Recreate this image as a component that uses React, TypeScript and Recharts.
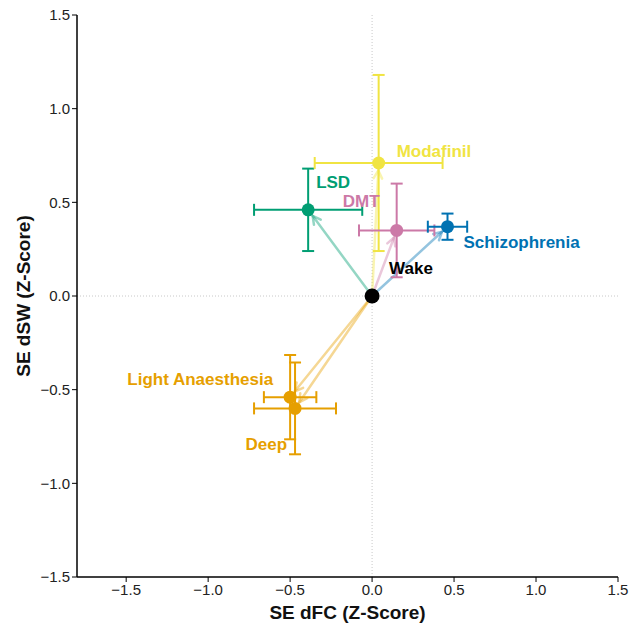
import React from 'react';
import { ScatterChart, Scatter, XAxis, YAxis, ErrorBar, ReferenceLine } from 'recharts';

// Conditions and their mean shifts (SE dFC, SE dSW) relative to wakefulness
const conditions = ['LSD', 'Modafinil', 'DMT', 'Schizophrenia', 'Light Anaesthesia', 'Deep'];
const dFC = [-0.39, 0.04, 0.15, 0.46, -0.5, -0.47];
const dSW = [0.46, 0.71, 0.35, 0.37, -0.54, -0.6];
const dFCErr = [0.33, 0.39, 0.23, 0.12, 0.16, 0.25];
const dSWErr = [0.22, 0.47, 0.25, 0.07, 0.225, 0.245];
const colors = ['#009E73', '#F0E442', '#CC79A7', '#0072B2', '#E69F00', '#E69F00'];

const wakeName = 'Wake';
const wakePoint = { x: 0, y: 0 };

const xTicks = [-1.5, -1.0, -0.5, 0.0, 0.5, 1.0, 1.5];
const yTicks = [-1.5, -1.0, -0.5, 0.0, 0.5, 1.0, 1.5];

const FONT = '"Liberation Sans", Arial, Helvetica, sans-serif';

// label placement relative to each dot: [dx, dy, anchor]
const labelOffsets: Record<string, [number, number, string]> = {
  LSD: [8, -27, 'start'],
  Modafinil: [18, -11, 'start'],
  DMT: [-17, -29, 'end'],
  Schizophrenia: [16, 16, 'start'],
  'Light Anaesthesia': [-17, -18, 'end'],
  Deep: [-8, 36, 'end'],
  Wake: [17, -28, 'start'],
};

const fmt = (v: number) => (v < 0 ? '\u2212' : '') + Math.abs(v).toFixed(1);

const makeDot = (color: string, r: number) => (props: any) => {
  const { cx, cy, payload } = props;
  if (cx == null || cy == null) return <g />;
  const [dx, dy, anchor] = labelOffsets[payload.name] || [10, -10, 'start'];
  return (
    <g>
      <circle cx={cx} cy={cy} r={r} fill={color} />
      <text
        x={cx + dx}
        y={cy + dy}
        textAnchor={anchor as any}
        dominantBaseline="central"
        fill={color}
        fontFamily={FONT}
        fontWeight="bold"
        fontSize={17}
      >
        {payload.name}
      </text>
    </g>
  );
};

const makeArrow = (color: string) => (props: any) => {
  const { x1, y1, x2, y2 } = props;
  const dx = x2 - x1;
  const dy = y2 - y1;
  const len = Math.sqrt(dx * dx + dy * dy) || 1;
  const ux = dx / len;
  const uy = dy / len;
  const tipX = x2 - ux * 7.5;
  const tipY = y2 - uy * 7.5;
  const head = 9;
  const ang = (28 * Math.PI) / 180;
  const rot = (a: number) => ({
    x: tipX - head * (ux * Math.cos(a) - uy * Math.sin(a)),
    y: tipY - head * (ux * Math.sin(a) + uy * Math.cos(a)),
  });
  const h1 = rot(ang);
  const h2 = rot(-ang);
  return (
    <g stroke={color} strokeOpacity={0.42} strokeWidth={2.5} fill="none" strokeLinecap="round">
      <line x1={x1} y1={y1} x2={tipX} y2={tipY} />
      <polyline points={`${h1.x},${h1.y} ${tipX},${tipY} ${h2.x},${h2.y}`} />
    </g>
  );
};

export default function App() {
  const series = conditions.map((name, i) => ({
    name,
    color: colors[i],
    data: [{ name, x: dFC[i], y: dSW[i], ex: dFCErr[i], ey: dSWErr[i] }],
  }));

  return (
    <div style={{ position: 'absolute', left: 0, top: 0, background: '#fff' }}>
      <ScatterChart
        width={629}
        height={626}
        margin={{ top: 15, right: 11, bottom: 0, left: 17 }}
        style={{ fontFamily: FONT }}
      >
        <XAxis
          type="number"
          dataKey="x"
          domain={[-1.8, 1.5]}
          ticks={xTicks}
          tickFormatter={fmt}
          allowDataOverflow
          height={49}
          axisLine={{ stroke: '#000', strokeWidth: 1.5 }}
          tickLine={{ stroke: '#000', strokeWidth: 1 }}
          tickSize={5}
          tick={{ fill: '#222', fontSize: 15, fontFamily: FONT }}
          label={{
            value: 'SE dFC (Z-Score)',
            position: 'insideBottom',
            offset: 7,
            style: { fontSize: 19, fontWeight: 'bold', fill: '#111', fontFamily: FONT },
          }}
        />
        <YAxis
          type="number"
          dataKey="y"
          domain={[-1.5, 1.5]}
          ticks={yTicks}
          tickFormatter={fmt}
          allowDataOverflow
          width={60}
          axisLine={{ stroke: '#000', strokeWidth: 1.5 }}
          tickLine={{ stroke: '#000', strokeWidth: 1 }}
          tickSize={5}
          tick={{ fill: '#222', fontSize: 15, fontFamily: FONT }}
          label={{
            value: 'SE dSW (Z-Score)',
            angle: -90,
            position: 'insideLeft',
            offset: 6,
            style: { textAnchor: 'middle', fontSize: 19, fontWeight: 'bold', fill: '#111', fontFamily: FONT },
          }}
        />
        <ReferenceLine x={0} stroke="#c8c8c8" strokeDasharray="1 2" strokeWidth={1} />
        <ReferenceLine y={0} stroke="#c8c8c8" strokeDasharray="1 2" strokeWidth={1} />
        {series.map((s) => (
          <ReferenceLine
            key={'arrow-' + s.name}
            segment={[
              { x: wakePoint.x, y: wakePoint.y },
              { x: s.data[0].x, y: s.data[0].y },
            ]}
            ifOverflow="visible"
            shape={makeArrow(s.color)}
          />
        ))}
        {series.map((s) => (
          <Scatter
            key={s.name}
            name={s.name}
            data={s.data}
            fill={s.color}
            isAnimationActive={false}
            shape={makeDot(s.color, 6.5)}
          >
            <ErrorBar dataKey="ex" direction="x" stroke={s.color} strokeWidth={2} width={6} />
            <ErrorBar dataKey="ey" direction="y" stroke={s.color} strokeWidth={2} width={6} />
          </Scatter>
        ))}
        <Scatter
          name={wakeName}
          data={[{ name: wakeName, x: wakePoint.x, y: wakePoint.y }]}
          fill="#000"
          isAnimationActive={false}
          shape={makeDot('#000', 7.5)}
        />
      </ScatterChart>
    </div>
  );
}
